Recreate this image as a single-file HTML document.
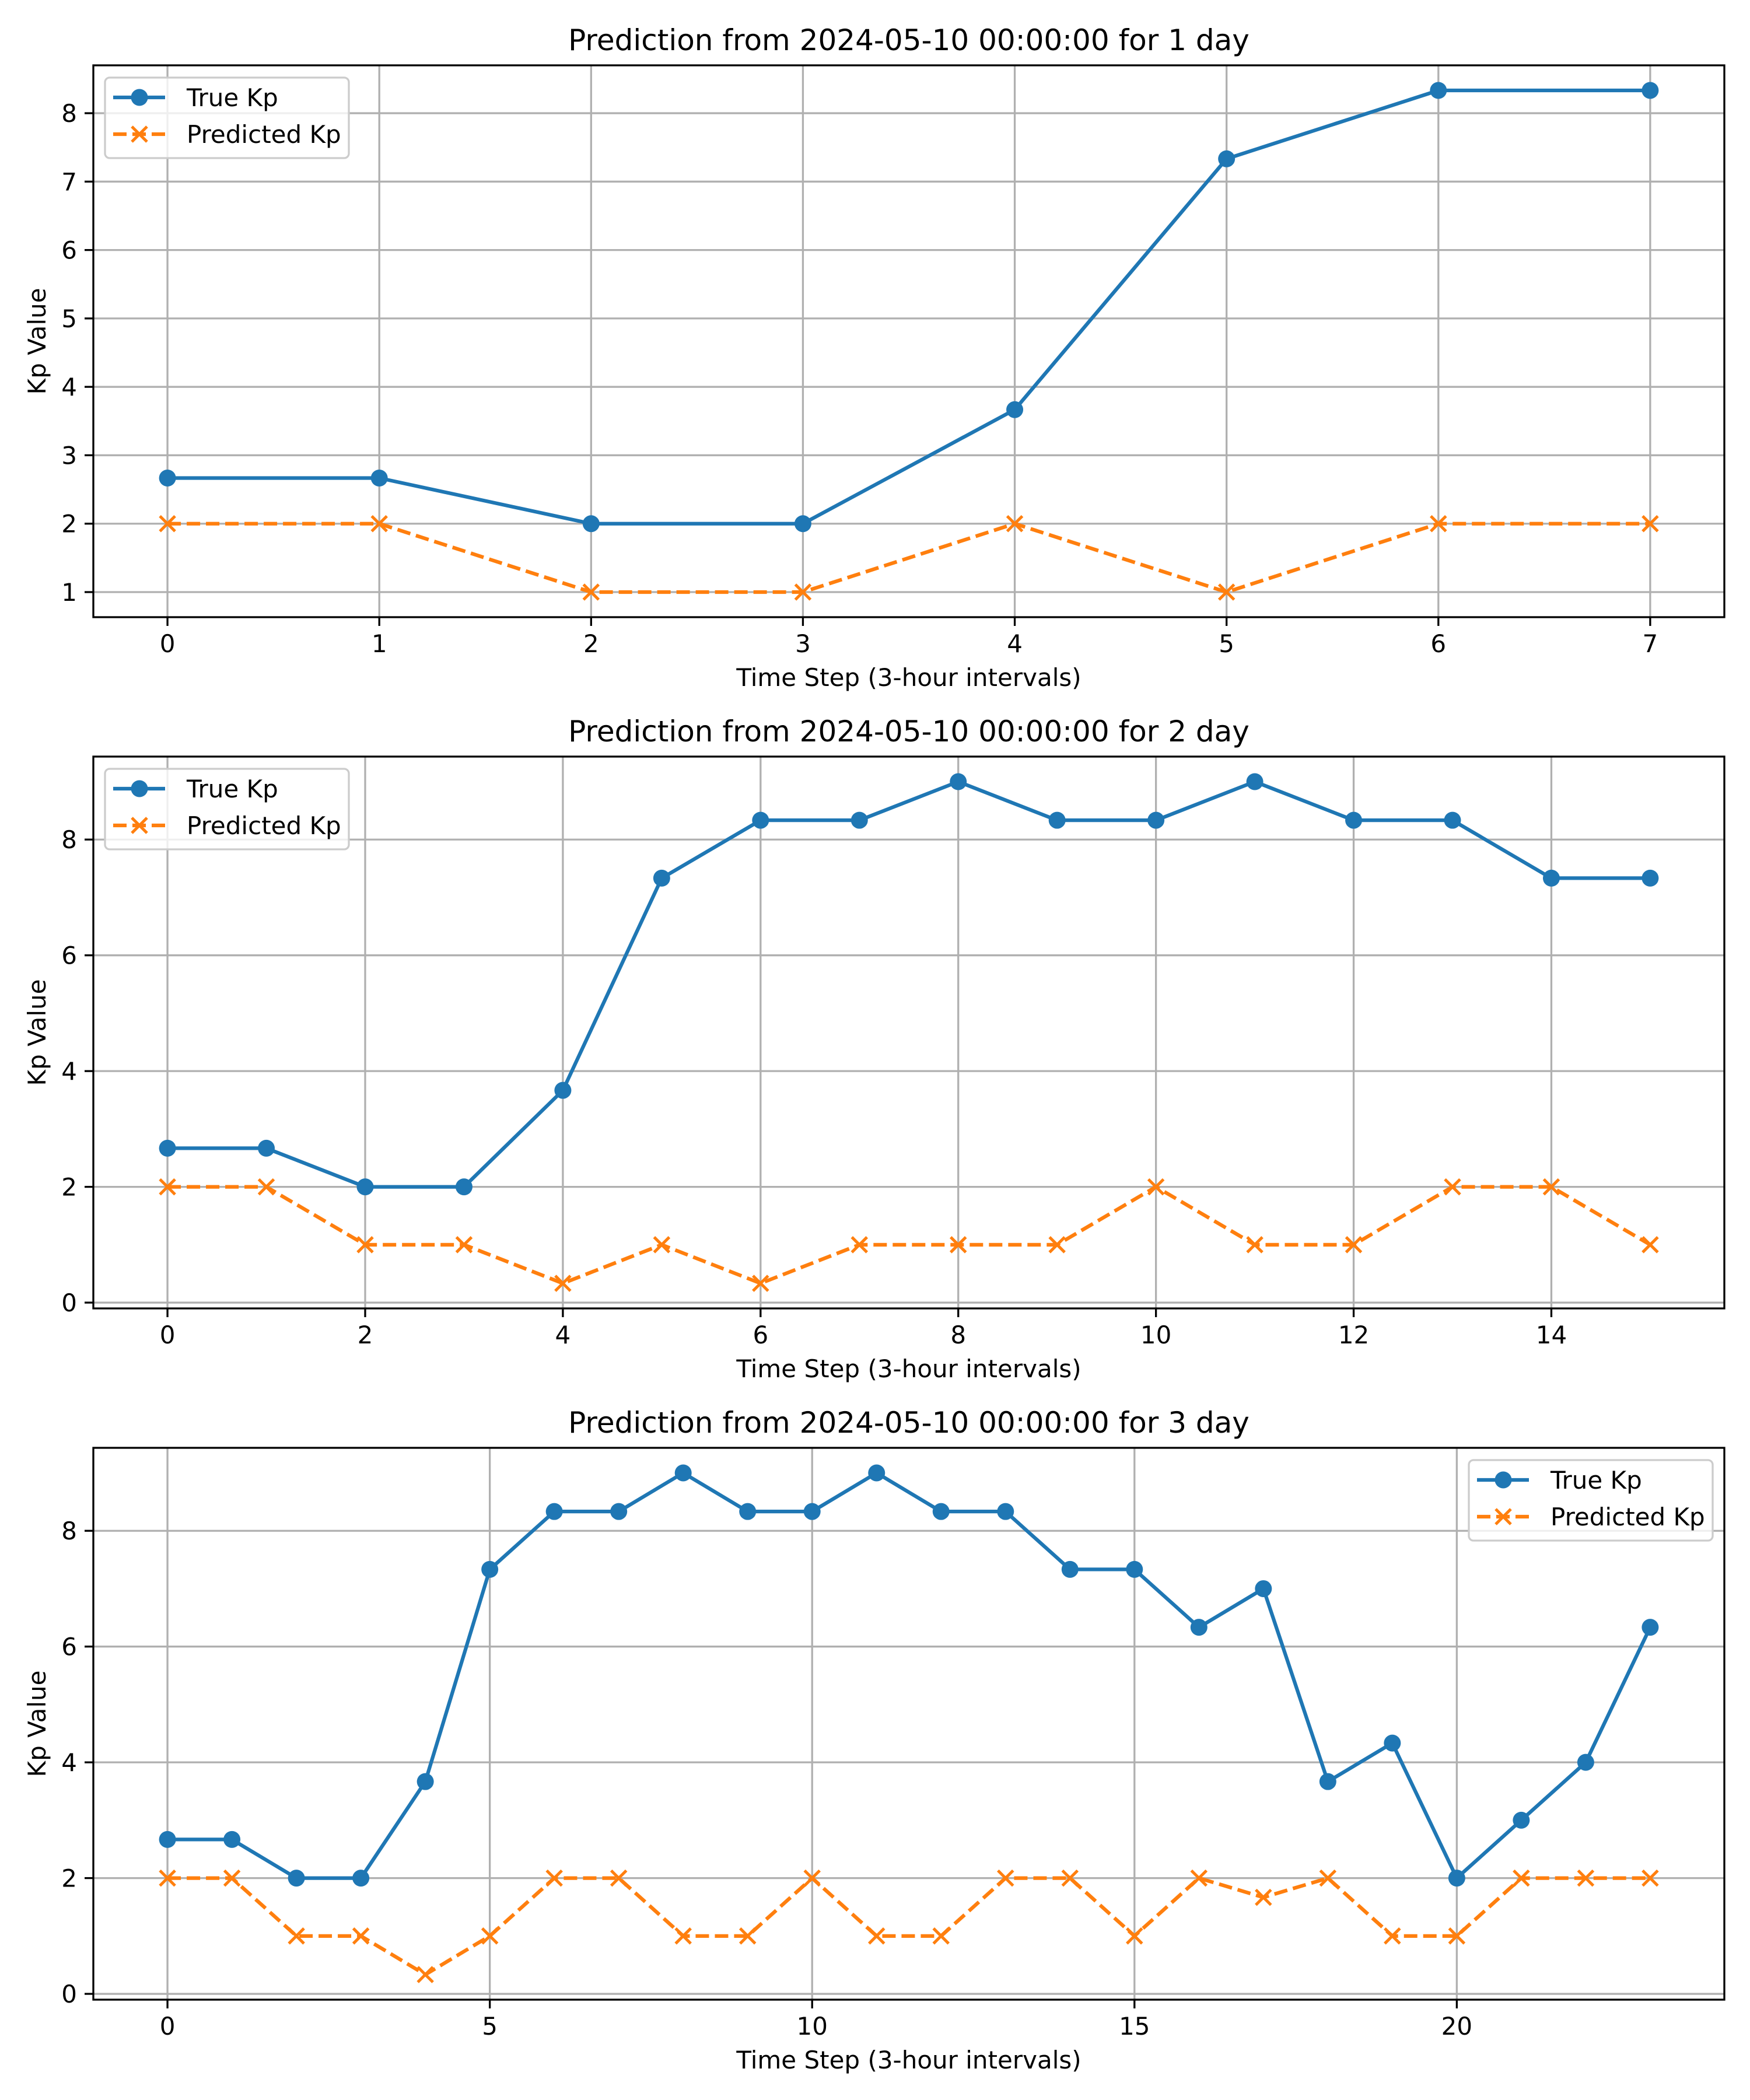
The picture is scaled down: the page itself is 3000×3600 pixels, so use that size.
<!DOCTYPE html>
<html><head><meta charset="utf-8"><style>html,body{margin:0;padding:0;background:#fff}svg{display:block}</style></head>
<body>
<svg id="fig" xmlns="http://www.w3.org/2000/svg" width="3000" height="3600" viewBox="0 0 3000 3600" font-family="'DejaVu Sans','Liberation Sans',sans-serif"></svg>
<script>
const trueP1 = [2.667,2.667,2,2,3.667,7.333,8.333,8.333];
const predP1 = [2,2,1,1,2,1,2,2];
const trueP2 = [2.667,2.667,2,2,3.667,7.333,8.333,8.333,9,8.333,8.333,9,8.333,8.333,7.333,7.333];
const predP2 = [2,2,1,1,0.333,1,0.333,1,1,1,2,1,1,2,2,1];
const trueP3 = [2.667,2.667,2,2,3.667,7.333,8.333,8.333,9,8.333,8.333,9,8.333,8.333,7.333,7.333,6.333,7,3.667,4.333,2,3,4,6.333];
const predP3 = [2,2,1,1,0.333,1,2,2,1,1,2,1,1,2,2,1,2,1.667,2,1,1,2,2,2];
const titles = ["Prediction from 2024-05-10 00:00:00 for 1 day","Prediction from 2024-05-10 00:00:00 for 2 day","Prediction from 2024-05-10 00:00:00 for 3 day"];
const xTicks1 = [0,1,2,3,4,5,6,7];
const xTicks2 = [0,2,4,6,8,10,12,14];
const xTicks3 = [0,5,10,15,20];
const yTicks1 = [1,2,3,4,5,6,7,8];
const yTicks2 = [0,2,4,6,8];
const yTicks3 = [0,2,4,6,8];
const legendPos = ["left","left","right"];

const NS="http://www.w3.org/2000/svg";
const svg=document.getElementById('fig');
function mk(tag,attrs,parent){const e=document.createElementNS(NS,tag);for(const k in attrs)e.setAttribute(k,attrs[k]);(parent||svg).appendChild(e);return e;}
const L=160,R=2956,H=946;
const tops=[112,1297,2482];
const panels=[[trueP1,predP1,xTicks1,yTicks1],[trueP2,predP2,xTicks2,yTicks2],[trueP3,predP3,xTicks3,yTicks3]];
const BLUE="#1f77b4",ORANGE="#ff7f0e";
function xmark(g,x,y,s){mk('path',{d:`M${x-s} ${y-s}L${x+s} ${y+s}M${x-s} ${y+s}L${x+s} ${y-s}`,stroke:ORANGE,'stroke-width':5,fill:'none'},g);}
panels.forEach((p,i)=>{
  const [tv,pv,xt,yt]=p;
  const T=tops[i],B=T+H;
  const g=mk('g',{});
  
  
  const n=tv.length;
  const xmin=-0.05*(n-1),xmax=(n-1)*1.05;
  const all=tv.concat(pv);const lo=Math.min(...all),hi=Math.max(...all);
  const ymin=lo-0.05*(hi-lo),ymax=hi+0.05*(hi-lo);
  const X=v=>L+(v-xmin)/(xmax-xmin)*(R-L);
  const Y=v=>B-(v-ymin)/(ymax-ymin)*(B-T);
  xt.forEach(v=>{const l=mk('line',{x1:X(v),x2:X(v),y1:T,y2:B,stroke:'#b0b0b0','stroke-width':3.3},g);});
  yt.forEach(v=>{const l=mk('line',{x1:L,x2:R,y1:Y(v),y2:Y(v),stroke:'#b0b0b0','stroke-width':3.3},g);});
  xt.forEach(v=>{mk('line',{x1:X(v),x2:X(v),y1:B,y2:B+15,stroke:'#000','stroke-width':3.3},g);
    const t=mk('text',{x:X(v),y:B+60,'font-size':42,'text-anchor':'middle',fill:'#000'},g);t.textContent=v;
    });
  yt.forEach(v=>{mk('line',{x1:L-15,x2:L,y1:Y(v),y2:Y(v),stroke:'#000','stroke-width':3.3},g);
    const t=mk('text',{x:L-28,y:Y(v)+15,'font-size':42,'text-anchor':'end',fill:'#000'},g);t.textContent=v;
    });
  const tl=mk('polyline',{points:tv.map((v,k)=>X(k)+','+Y(v)).join(' '),fill:'none',stroke:BLUE,'stroke-width':6.25,'stroke-linejoin':'round'},g);
  
  tv.forEach((v,k)=>{const c=mk('circle',{cx:X(k),cy:Y(v),r:14.5,fill:BLUE},g);});
  const pl=mk('polyline',{points:pv.map((v,k)=>X(k)+','+Y(v)).join(' '),fill:'none',stroke:ORANGE,'stroke-width':6.25,'stroke-dasharray':'23 10'},g);
  
  pv.forEach((v,k)=>xmark(g,X(k),Y(v),13));
  const fr=mk('rect',{x:L,y:T,width:R-L,height:H,fill:'none',stroke:'#000','stroke-width':3.3},g);
  
  const tt=mk('text',{x:(L+R)/2,y:T-26,'font-size':50,'text-anchor':'middle',fill:'#000'},g);tt.textContent=titles[i];
  
  const xl=mk('text',{x:(L+R)/2,y:B+118,'font-size':42,'text-anchor':'middle',fill:'#000'},g);xl.textContent='Time Step (3-hour intervals)';
  
  const yc=(T+B)/2;
  const yl=mk('text',{x:78,y:yc,'font-size':42,'text-anchor':'middle',fill:'#000',transform:`rotate(-90 78 ${yc})`},g);yl.textContent='Kp Value';
  
  const lw=418,lh=138;
  const lx=legendPos[i]==='left'?L+20:R-20-lw, ly=T+21;
  const lg=mk('g',{},g);
  
  mk('rect',{x:lx,y:ly,width:lw,height:lh,rx:8,fill:'#fff','fill-opacity':0.8,stroke:'#cccccc','stroke-width':3.3},lg);
  const r1=ly+34,r2=ly+97;
  mk('line',{x1:lx+14,x2:lx+103,y1:r1,y2:r1,stroke:BLUE,'stroke-width':6.25},lg);
  mk('circle',{cx:lx+59,cy:r1,r:14.5,fill:BLUE},lg);
  mk('line',{x1:lx+14,x2:lx+103,y1:r2,y2:r2,stroke:ORANGE,'stroke-width':6.25,'stroke-dasharray':'23 10'},lg);
  xmark(lg,lx+59,r2,13);
  const t1=mk('text',{x:lx+140,y:r1+15,'font-size':42,fill:'#000'},lg);t1.textContent='True Kp';
  
  const t2=mk('text',{x:lx+140,y:r2+15,'font-size':42,fill:'#000'},lg);t2.textContent='Predicted Kp';
  
});
</script>
</body></html>
